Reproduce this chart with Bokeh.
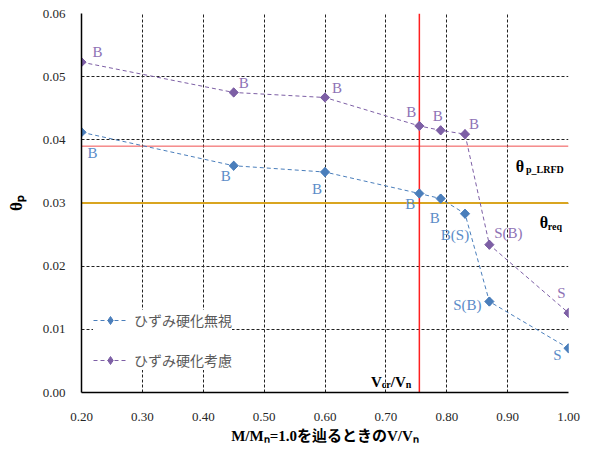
import math
from bokeh.plotting import figure
from bokeh.models import (Range1d, FixedTicker, PrintfTickFormatter, Span, Label,
                          ColumnDataSource, LegendItem, Legend)
from bokeh.core.properties import value
from bokeh.embed import file_html
from bokeh.resources import INLINE

# ---- data ----
vv = [0.20, 0.45, 0.60, 0.755, 0.79, 0.83, 0.87, 1.00]
theta_ignore = [0.0412, 0.0359, 0.0349, 0.0315, 0.0307, 0.0283, 0.0144, 0.0070]
theta_consider = [0.0523, 0.0475, 0.0467, 0.0422, 0.0415, 0.0409, 0.0234, 0.0126]
labels_ignore = ["B", "B", "B", "B", "B", "B(S)", "S(B)", "S"]
labels_consider = ["B", "B", "B", "B", "B", "B", "S(B)", "S"]
series_names = ["ひずみ硬化無視", "ひずみ硬化考慮"]
vcr_vn = 0.755
theta_lrfd = 0.039
theta_req = 0.030
x_ticks = [0.20, 0.30, 0.40, 0.50, 0.60, 0.70, 0.80, 0.90, 1.00]
y_ticks = [0.00, 0.01, 0.02, 0.03, 0.04, 0.05, 0.06]
x_title = "M/Mₙ=1.0を辿るときのV/Vₙ"
y_title = "θₚ"

# label placement (pixels, +y = down)
off_ignore_x = [11, -8, -8, -9, -6, -10, -22, -11]
off_ignore_y = [21, 10, 17, 10, 19, 21, 3, 7]
off_consider_x = [16, 10, 12, -8, -3, 9, 19, -7]
off_consider_y = [-10, -9, -10, -14, -14, -10, -12, -20]

BLUE = "#4A7EBB"
PURPLE = "#7D5FA5"
BLUE_T = "#5B8CC8"
PURPLE_T = "#8E72B5"
SERIF = "Liberation Serif"
JP = "Liberation Serif, Noto Sans CJK JP"

p = figure(width=583, height=446, output_backend="svg", toolbar_location=None,
           x_range=Range1d(0.2, 1.0), y_range=Range1d(0.0, 0.06),
           min_border_left=81, min_border_right=15, min_border_top=13,
           min_border_bottom=52)
p.outline_line_color = None
p.background_fill_color = "white"

# grid
p.xgrid.ticker = FixedTicker(ticks=x_ticks[1:])
p.ygrid.ticker = FixedTicker(ticks=y_ticks[1:])
for g in (p.xgrid, p.ygrid):
    g.grid_line_color = "#222222"
    g.grid_line_dash = "3 2"
    g.grid_line_width = 1

# axes
p.xaxis.ticker = FixedTicker(ticks=x_ticks)
p.yaxis.ticker = FixedTicker(ticks=y_ticks)
p.xaxis.formatter = PrintfTickFormatter(format="%.2f")
p.yaxis.formatter = PrintfTickFormatter(format="%.2f")
for ax in (p.xaxis, p.yaxis):
    ax.axis_line_color = "black"
    ax.axis_line_width = 1.5
    ax.major_tick_line_color = None
    ax.minor_tick_line_color = None
    ax.major_label_text_font = SERIF
    ax.major_label_text_font_size = "13px"
    ax.major_label_text_color = "#262626"
    ax.axis_label_text_font = JP
    ax.axis_label_text_font_style = "bold"
    ax.axis_label_text_color = "black"
p.xaxis.major_label_standoff = 14
p.yaxis.major_label_standoff = 10
p.xaxis.axis_label = x_title
p.xaxis.axis_label_text_font_size = "15px"
p.xaxis.axis_label_standoff = 4
p.yaxis.axis_label = y_title
p.yaxis.axis_label_text_font_size = "17px"
p.yaxis.axis_label_standoff = 14

# reference lines
p.add_layout(Span(location=theta_req, dimension="width", line_color="#D9A520",
                  line_width=2, level="underlay"))
p.add_layout(Span(location=theta_lrfd, dimension="width", line_color="#F05050",
                  line_width=1, level="underlay"))
p.add_layout(Span(location=vcr_vn, dimension="height", line_color="#FF2020",
                  line_width=1.5, level="underlay"))

# series
items = []
for ys, col, name in ((theta_ignore, BLUE, series_names[0]),
                      (theta_consider, PURPLE, series_names[1])):
    ln = p.line(vv, ys, line_color=col, line_width=1, line_dash="4 3")
    # diamond marker (used by the legend), hidden under the rotated square below
    mk = p.scatter(vv, ys, marker="diamond", size=9,
                   fill_color=col, line_color=col)
    p.scatter(vv, ys, marker="square", angle=math.pi / 4, size=6.5,
              fill_color=col, line_color=col)
    items.append(LegendItem(label=name, renderers=[ln, mk]))

# point labels
for ys, labs, ox, oy, col in ((theta_ignore, labels_ignore, off_ignore_x, off_ignore_y, BLUE_T),
                              (theta_consider, labels_consider, off_consider_x, off_consider_y, PURPLE_T)):
    src = ColumnDataSource(dict(x=vv, y=ys, t=labs, ox=ox, oy=oy))
    p.text(x="x", y="y", text="t", x_offset="ox", y_offset="oy", source=src,
           text_font=value(SERIF), text_font_size="15px", text_color=col,
           text_align="center", text_baseline="middle")

# legend
lg = Legend(items=items, location=(12, 22))
lg.padding = 10
lg.margin = 0
lg.spacing = 20
lg.glyph_width = 34
lg.glyph_height = 20
lg.label_height = 20
lg.label_standoff = 7
lg.label_text_font = "Noto Sans CJK JP"
lg.label_text_font_size = "14px"
lg.label_text_color = "#595959"
lg.border_line_color = None
lg.background_fill_alpha = 1.0
p.add_layout(lg)


def lab(x, y, txt, dx, dy, size):
    p.add_layout(Label(x=x, y=y, text=txt, x_offset=dx, y_offset=dy,
                       text_font=SERIF, text_font_size=size, text_font_style="bold",
                       text_color="black", text_align="left", text_baseline="alphabetic"))


# θp_LRFD  (anchored at right edge, line level; dy up-positive)
lab(1.0, theta_lrfd, "θ", -52.7, -20.5, "16px")
lab(1.0, theta_lrfd, "p_LRFD", -42.5, -23.5, "10px")
# θreq
lab(1.0, theta_req, "θ", -28.7, -19.5, "16px")
lab(1.0, theta_req, "req", -20.7, -23.5, "10px")
# Vcr/Vn
lab(vcr_vn, 0.0, "V", -48.3, 11, "15px")
lab(vcr_vn, 0.0, "cr", -37.5, 8, "10px")
lab(vcr_vn, 0.0, "/V", -28.6, 11, "15px")
lab(vcr_vn, 0.0, "n", -13.5, 8, "10px")

open("out.html", "w").write(file_html(p, INLINE))
